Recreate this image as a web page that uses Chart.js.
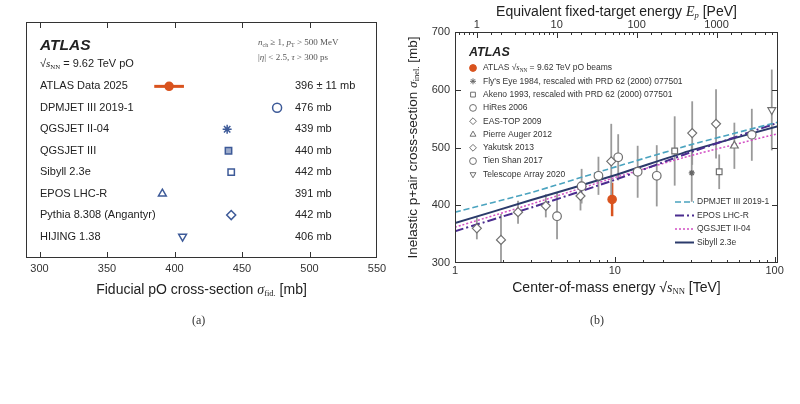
<!DOCTYPE html>
<html>
<head>
<meta charset="utf-8">
<script src="https://cdn.jsdelivr.net/npm/chart.js@4.4.1/dist/chart.umd.min.js"></script>
<style>
  body { margin: 0; background: #fff; width: 800px; height: 404px; position: relative; overflow: hidden; }
  canvas { position: absolute; top: 0; }
  #left { left: 0; }
  #right { left: 400px; }
  .cap { position: absolute; top: 313px; font-family: "Liberation Serif", serif; font-size: 12px; color: #333; }
</style>
</head>
<body>
<canvas id="left" width="400" height="330" style="width:400px;height:330px"></canvas>
<canvas id="right" width="400" height="330" style="width:400px;height:330px"></canvas>
<div class="cap" style="left:192px">(a)</div>
<div class="cap" style="left:590px">(b)</div>
<script>
// ---- panel (a): fiducial pO cross-section
const models = ["ATLAS Data 2025", "DPMJET III 2019-1", "QGSJET II-04", "QGSJET III",
  "Sibyll 2.3e", "EPOS LHC-R", "Pythia 8.308 (Angantyr)", "HIJING 1.38"];
const fidXsec = [396, 476, 439, 440, 442, 391, 442, 406];
const fidErr = [11, 0, 0, 0, 0, 0, 0, 0];
const aTicks = [300, 350, 400, 450, 500, 550];

// ---- panel (b): inelastic p+air cross-section vs sqrt(s)
const atlasRootS = [9.62];
const atlasInel = [410];
const atlasInelErr = [29];
const flysEyeRootS = [30.3];
const flysEyeInel = [456];
const flysEyeErr = [50];
const akenoRootS = [23.7, 45];
const akenoInel = [494, 458];
const akenoErr = [60, 30];
const hiresRootS = [72];
const hiresInel = [522];
const hiresErr = [45];
const easTopRootS = [1.94];
const easTopInel = [340];
const easTopErr = [45];
const augerRootS = [56];
const augerInel = [503];
const augerErr = [40];
const yakutskRootS = [1.37, 2.48, 3.7, 6.1, 9.5, 30.5, 43];
const yakutskInel = [360, 388, 399, 416, 476, 525, 541];
const yakutskErr = [19, 20, 20, 25, 65, 55, 60];
const tienShanRootS = [4.35, 6.2, 7.9, 10.5, 13.9, 18.3];
const tienShanInel = [381, 433, 451, 483, 458, 451];
const tienShanErr = [40, 30, 33, 40, 45, 53];
const taRootS = [96];
const taInel = [565];
const taErr = [70];

const modelRootS = [1, 3, 10, 30, 105];
const dpmjetLine = [388, 422, 466, 505, 544];
const eposLine = [355, 396, 444, 492, 543];
const qgsjetLine = [362, 402, 448, 486, 524];
const sibyllLine = [369, 409, 452, 495, 537];

const bTicks = [1, 10, 100];
const topTicks = [1, 10, 100, 1000];
const yTicksB = [300, 400, 500, 600, 700];

const protonMass = 0.938; // GeV, E_p[PeV] = s / (2 m_p)

Chart.defaults.font.family = '"Liberation Sans", Arial, sans-serif';
Chart.defaults.color = '#222';

const SANS = '"Liberation Sans", Arial, sans-serif';
const SERIF = '"Liberation Serif", "DejaVu Serif", serif';
const atlasColor = '#d9531e';
const markerBlue = '#3d5a98';
const gray = '#707070';

function f(size, extra, fam) { return (extra || '') + ' ' + size + 'px ' + (fam || SANS); }

// draw a line of text made of several font pieces (for subscripts)
function drawRich(ctx, parts, x, y, align) {
  let w = 0;
  parts.forEach(p => { ctx.font = p.f; p.w = ctx.measureText(p.t).width; w += p.w; });
  let cx = align === 'center' ? x - w / 2 : (align === 'right' ? x - w : x);
  ctx.textAlign = 'left';
  ctx.textBaseline = 'middle';
  parts.forEach(p => { ctx.font = p.f; ctx.fillText(p.t, cx, y + (p.dy || 0)); cx += p.w; });
}

function sqrtS(size) {
  return [
    { t: '√', f: f(size) },
    { t: 's', f: f(size, 'italic', SERIF) },
    { t: 'NN', f: f(size * 0.62, '', SERIF), dy: size * 0.25 }
  ];
}

function marker(ctx, style, x, y, r, rot, stroke, fill, bw) {
  ctx.save();
  ctx.strokeStyle = stroke;
  ctx.fillStyle = fill;
  ctx.lineWidth = bw;
  if (Chart.helpers && Chart.helpers.drawPoint) {
    Chart.helpers.drawPoint(ctx, { pointStyle: style, radius: r, rotation: rot || 0, borderWidth: bw }, x, y);
  } else {
    ctx.beginPath(); ctx.arc(x, y, r, 0, Math.PI * 2); ctx.fill(); ctx.stroke();
  }
  ctx.restore();
}

function frame(ctx, a) {
  ctx.save();
  ctx.strokeStyle = '#333';
  ctx.lineWidth = 1;
  ctx.strokeRect(a.left + 0.5, a.top + 0.5, a.right - a.left - 1, a.bottom - a.top - 1);
  ctx.restore();
}

function isDecade(v) { const l = Math.log10(v); return Math.abs(l - Math.round(l)) < 1e-6; }
function inList(list, v) { return list.some(t => Math.abs(t - v) / t < 1e-6); }

// ticks pointing into the plot area
function xTicksInside(ctx, scale, a, atTop, isMajor) {
  ctx.save();
  ctx.strokeStyle = '#333';
  ctx.lineWidth = 1;
  scale.ticks.forEach(t => {
    const px = Math.round(scale.getPixelForValue(t.value)) + 0.5;
    if (px < a.left + 2 || px > a.right - 2) return;
    const len = isMajor(t.value) ? 6 : 3;
    ctx.beginPath();
    if (atTop) { ctx.moveTo(px, a.top); ctx.lineTo(px, a.top + len); }
    else { ctx.moveTo(px, a.bottom); ctx.lineTo(px, a.bottom - len); }
    ctx.stroke();
  });
  ctx.restore();
}

// ---------------- panel (a) ----------------
const aStyles = ['circle', 'circle', 'star', 'rect', 'rect', 'triangle', 'rectRot', 'triangle'];
const aRot = [0, 0, 0, 0, 0, 0, 0, 180];

const panelA = {
  id: 'panelA',
  beforeDatasetsDraw(chart) {
    const { ctx, scales: { x, y } } = chart;
    ctx.save();
    ctx.strokeStyle = atlasColor;
    ctx.lineWidth = 3;
    fidXsec.forEach((v, i) => {
      if (!fidErr[i]) return;
      const py = y.getPixelForValue(i);
      ctx.beginPath();
      ctx.moveTo(x.getPixelForValue(v - fidErr[i]), py);
      ctx.lineTo(x.getPixelForValue(v + fidErr[i]), py);
      ctx.stroke();
    });
    ctx.restore();
  },
  afterDraw(chart) {
    const { ctx, chartArea: a, scales: { x, y } } = chart;
    frame(ctx, a);
    xTicksInside(ctx, x, a, false, () => true);
    xTicksInside(ctx, x, a, true, () => true);
    ctx.save();
    ctx.fillStyle = '#222';
    drawRich(ctx, [{ t: 'ATLAS', f: f(15.5, 'italic bold') }], a.left + 14, a.top + 24, 'left');
    drawRich(ctx, sqrtS(11).concat([{ t: ' = 9.62 TeV pO', f: f(11) }]), a.left + 14, a.top + 42, 'left');
    ctx.fillStyle = '#555';
    drawRich(ctx, [
      { t: 'n', f: f(9, 'italic', SERIF) }, { t: 'ch', f: f(6, '', SERIF), dy: 2 },
      { t: ' ≥ 1, ', f: f(9, '', SERIF) },
      { t: 'p', f: f(9, 'italic', SERIF) }, { t: 'T', f: f(6, '', SERIF), dy: 2 },
      { t: ' > 500 MeV', f: f(9, '', SERIF) }
    ], a.left + 232, a.top + 21, 'left');
    drawRich(ctx, [
      { t: '|', f: f(9, '', SERIF) }, { t: 'η', f: f(9, 'italic', SERIF) },
      { t: '| < 2.5, ', f: f(9, '', SERIF) }, { t: 'τ', f: f(9, 'italic', SERIF) },
      { t: ' > 300 ps', f: f(9, '', SERIF) }
    ], a.left + 232, a.top + 36, 'left');
    ctx.fillStyle = '#222';
    models.forEach((m, i) => {
      const py = y.getPixelForValue(i);
      drawRich(ctx, [{ t: m, f: f(11) }], a.left + 14, py, 'left');
      const val = fidErr[i] ? fidXsec[i] + ' ± ' + fidErr[i] + ' mb' : fidXsec[i] + ' mb';
      drawRich(ctx, [{ t: val, f: f(11) }], a.left + 269, py, 'left');
    });
    drawRich(ctx, [
      { t: 'Fiducial pO cross-section ', f: f(14) },
      { t: 'σ', f: f(14, 'italic', SERIF) },
      { t: 'fid.', f: f(8.5, '', SERIF), dy: 4 },
      { t: ' [mb]', f: f(14) }
    ], (a.left + a.right) / 2, a.bottom + 32, 'center');
    ctx.restore();
  }
};

new Chart(document.getElementById('left'), {
  type: 'scatter',
  data: {
    datasets: [{
      data: fidXsec.map((v, i) => ({ x: v, y: i })),
      pointStyle: aStyles,
      rotation: aRot,
      pointRadius: fidXsec.map((v, i) => i === 0 ? 4 : 4.5),
      borderWidth: 1.5,
      borderColor: fidXsec.map((v, i) => i === 0 ? atlasColor : markerBlue),
      backgroundColor: fidXsec.map((v, i) => i === 0 ? atlasColor : (i === 3 ? 'rgba(61,90,152,0.5)' : 'rgba(255,255,255,0)'))
    }]
  },
  options: {
    responsive: false,
    animation: false,
    events: [],
    layout: { padding: { left: 26, right: 23, top: 22, bottom: 52 } },
    plugins: { legend: { display: false }, tooltip: { enabled: false } },
    scales: {
      x: {
        type: 'linear', min: 290, max: 550,
        grid: { display: false, drawTicks: false },
        border: { display: false },
        afterBuildTicks: s => { s.ticks = aTicks.map(v => ({ value: v })); },
        afterFit: s => { s.height = 20; },
        ticks: { font: { size: 11 }, padding: 4, autoSkip: false, maxRotation: 0, color: '#333' }
      },
      y: { type: 'linear', min: -3, max: 8, reverse: true, display: false }
    }
  },
  plugins: [panelA]
});

// ---------------- panel (b) ----------------
const expSets = [
  { label: 'ATLAS', xs: atlasRootS, ys: atlasInel, es: atlasInelErr, style: 'circle', r: 4.2, stroke: atlasColor, fill: atlasColor, bar: atlasColor, bw: 2.5 },
  { label: "Fly's Eye 1984, rescaled with PRD 62 (2000) 077501", xs: flysEyeRootS, ys: flysEyeInel, es: flysEyeErr, style: 'star', r: 3, stroke: '#666', fill: '#666' },
  { label: 'Akeno 1993, rescaled with PRD 62 (2000) 077501', xs: akenoRootS, ys: akenoInel, es: akenoErr, style: 'rect', r: 4 },
  { label: 'HiRes 2006', xs: hiresRootS, ys: hiresInel, es: hiresErr, style: 'circle', r: 4.2 },
  { label: 'EAS-TOP 2009', xs: easTopRootS, ys: easTopInel, es: easTopErr, style: 'rectRot', r: 4.5 },
  { label: 'Pierre Auger 2012', xs: augerRootS, ys: augerInel, es: augerErr, style: 'triangle', r: 4.5 },
  { label: 'Yakutsk 2013', xs: yakutskRootS, ys: yakutskInel, es: yakutskErr, style: 'rectRot', r: 4.5 },
  { label: 'Tien Shan 2017', xs: tienShanRootS, ys: tienShanInel, es: tienShanErr, style: 'circle', r: 4.3 },
  { label: 'Telescope Array 2020', xs: taRootS, ys: taInel, es: taErr, style: 'triangle', r: 4.5, rot: 180 }
];

const modelSets = [
  { label: 'DPMJET III 2019-1', ys: dpmjetLine, color: '#4aa3bf', dash: [6, 3], w: 1.6 },
  { label: 'EPOS LHC-R', ys: eposLine, color: '#4b2d8f', dash: [9, 3, 2, 3], w: 2 },
  { label: 'QGSJET II-04', ys: qgsjetLine, color: '#d24fc4', dash: [2, 2], w: 1.5 },
  { label: 'Sibyll 2.3e', ys: sibyllLine, color: '#2b3a6b', dash: [], w: 2 }
];

const bDatasets = expSets.map(e => ({
  label: e.label,
  data: e.xs.map((v, i) => ({ x: v, y: e.ys[i] })),
  errs: e.es,
  barColor: e.bar || '#9a9a9a',
  barWidth: e.bw || 1.8,
  pointStyle: e.style,
  rotation: e.rot || 0,
  pointRadius: e.r,
  borderWidth: 1.2,
  borderColor: e.stroke || gray,
  backgroundColor: e.fill || '#fff'
})).concat(modelSets.map(m => ({
  label: m.label,
  data: modelRootS.map((v, i) => ({ x: v, y: m.ys[i] })),
  showLine: true,
  pointRadius: 0,
  borderColor: m.color,
  borderDash: m.dash,
  borderWidth: m.w,
  tension: 0.15
})));

const panelB = {
  id: 'panelB',
  beforeDatasetsDraw(chart) {
    const { ctx, chartArea: a, scales: { x, y } } = chart;
    ctx.save();
    ctx.beginPath();
    ctx.rect(a.left, a.top, a.right - a.left, a.bottom - a.top);
    ctx.clip();
    chart.data.datasets.forEach(ds => {
      if (!ds.errs) return;
      ctx.strokeStyle = ds.barColor;
      ctx.lineWidth = ds.barWidth;
      ds.data.forEach((p, i) => {
        const px = x.getPixelForValue(p.x);
        ctx.beginPath();
        ctx.moveTo(px, y.getPixelForValue(p.y - ds.errs[i]));
        ctx.lineTo(px, y.getPixelForValue(p.y + ds.errs[i]));
        ctx.stroke();
      });
    });
    ctx.restore();
  },
  afterDraw(chart) {
    const { ctx, chartArea: a, scales } = chart;
    const y = scales.y;
    frame(ctx, a);
    xTicksInside(ctx, scales.x, a, false, isDecade);
    xTicksInside(ctx, scales.xTop, a, true, isDecade);
    ctx.save();
    ctx.strokeStyle = '#333';
    yTicksB.forEach(v => {
      const py = Math.round(y.getPixelForValue(v)) + 0.5;
      if (py < a.top + 2 || py > a.bottom - 2) return;
      ctx.beginPath();
      ctx.moveTo(a.left, py); ctx.lineTo(a.left + 6, py);
      ctx.moveTo(a.right, py); ctx.lineTo(a.right - 6, py);
      ctx.stroke();
    });
    ctx.restore();

    ctx.save();
    ctx.fillStyle = '#222';
    const cx = (a.left + a.right) / 2;
    drawRich(ctx, [
      { t: 'Equivalent fixed-target energy ', f: f(14) },
      { t: 'E', f: f(14, 'italic', SERIF) },
      { t: 'p', f: f(8.5, 'italic', SERIF), dy: 4 },
      { t: ' [PeV]', f: f(14) }
    ], cx, 12, 'center');
    drawRich(ctx, [{ t: 'Center-of-mass energy ', f: f(14) }].concat(sqrtS(14), [{ t: ' [TeV]', f: f(14) }]),
      cx, a.bottom + 25, 'center');
    ctx.save();
    ctx.translate(13, (a.top + a.bottom) / 2);
    ctx.rotate(-Math.PI / 2);
    drawRich(ctx, [
      { t: 'Inelastic p+air cross-section ', f: f(13.5) },
      { t: 'σ', f: f(13.5, 'italic', SERIF) },
      { t: 'inel.', f: f(8.5, '', SERIF), dy: 4 },
      { t: ' [mb]', f: f(13.5) }
    ], 0, 0, 'center');
    ctx.restore();

    // data legend
    drawRich(ctx, [{ t: 'ATLAS', f: f(12.5, 'italic bold') }], a.left + 14, a.top + 21, 'left');
    chart.data.datasets.forEach((ds, i) => {
      if (!ds.errs) return;
      const py = a.top + 36 + i * 13.3;
      marker(ctx, ds.pointStyle, a.left + 18, py, Math.min(ds.pointRadius, 3.4), ds.rotation, ds.borderColor, ds.backgroundColor, 1);
      ctx.fillStyle = '#333';
      if (i === 0) {
        drawRich(ctx, [{ t: 'ATLAS ', f: f(8.5) }].concat(sqrtS(8.5), [{ t: ' = 9.62 TeV pO beams', f: f(8.5) }]),
          a.left + 28, py, 'left');
      } else {
        drawRich(ctx, [{ t: ds.label, f: f(8.5) }], a.left + 28, py, 'left');
      }
    });
    // model legend
    modelSets.forEach((m, i) => {
      const py = a.bottom - 61 + i * 13.5;
      ctx.save();
      ctx.strokeStyle = m.color;
      ctx.lineWidth = m.w;
      ctx.setLineDash(m.dash);
      ctx.beginPath();
      ctx.moveTo(a.left + 220, py); ctx.lineTo(a.left + 239, py);
      ctx.stroke();
      ctx.restore();
      ctx.fillStyle = '#333';
      drawRich(ctx, [{ t: m.label, f: f(8.5) }], a.left + 242, py, 'left');
    });
    ctx.restore();
  }
};

const rootSMax = 105;
new Chart(document.getElementById('right'), {
  type: 'scatter',
  data: { datasets: bDatasets },
  options: {
    responsive: false,
    animation: false,
    events: [],
    layout: { padding: { left: 0, right: 22, top: 0, bottom: 47 } },
    plugins: { legend: { display: false }, tooltip: { enabled: false } },
    scales: {
      x: {
        type: 'logarithmic', position: 'bottom', min: 1, max: rootSMax,
        grid: { display: false, drawTicks: false },
        border: { display: false },
        afterFit: s => { s.height = 20; },
        ticks: {
          autoSkip: false, maxRotation: 0, padding: 1, font: { size: 11 }, color: '#333',
          callback: v => inList(bTicks, v) ? String(v) : ''
        }
      },
      xTop: {
        type: 'logarithmic', axis: 'x', position: 'top',
        min: 1 / (2 * protonMass), max: rootSMax * rootSMax / (2 * protonMass),
        grid: { display: false, drawTicks: false },
        border: { display: false },
        afterFit: s => { s.height = 32; },
        ticks: {
          autoSkip: false, maxRotation: 0, padding: 0, font: { size: 11 }, color: '#333',
          callback: v => inList(topTicks, v) ? String(v) : ''
        }
      },
      y: {
        type: 'linear', min: 300, max: 700,
        grid: { display: false, drawTicks: false },
        border: { display: false },
        afterBuildTicks: s => { s.ticks = yTicksB.map(v => ({ value: v })); },
        afterFit: s => { s.width = 55; },
        ticks: { padding: 5, font: { size: 11 }, color: '#333' }
      }
    }
  },
  plugins: [panelB]
});
</script>
</body>
</html>
